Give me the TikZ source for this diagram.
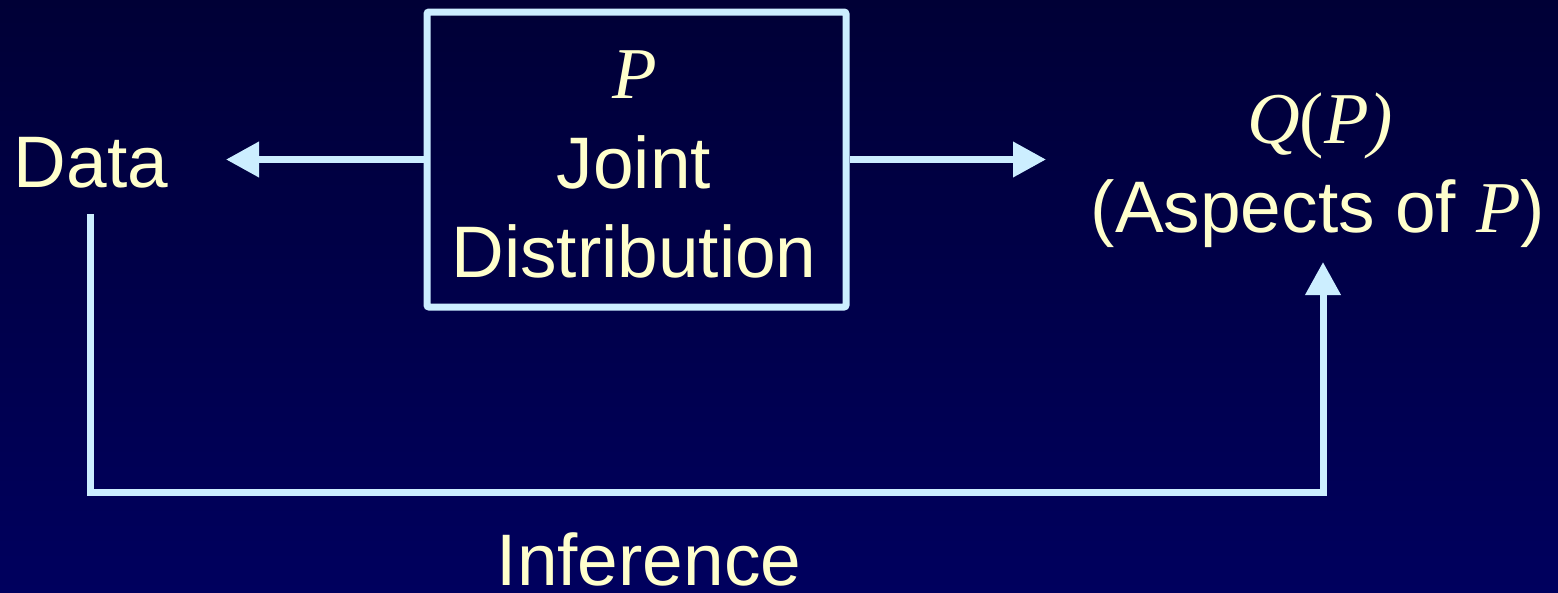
\documentclass[tikz,border=0pt]{standalone}
\usepackage{fontspec}
\setmainfont{Liberation Sans}
\newfontfamily\seriffont{Liberation Serif}
\usetikzlibrary{arrows.meta}
\definecolor{txt}{HTML}{FFFFCC}
\definecolor{ln}{HTML}{CCEEFF}
\definecolor{bgtop}{HTML}{000036}
\definecolor{bgbot}{HTML}{00005E}
\tikzset{
  lbl/.style={text=txt, inner sep=0pt, anchor=base, font=\fontsize{73}{89}\selectfont},
  conn/.style={draw=ln, line width=7pt, miter limit=10},
  tipped/.style={conn, -{Triangle[length=33pt,width=34pt]}},
  boxstyle/.style={draw=ln, line width=7pt, rounded corners=2pt, minimum width=419pt, minimum height=295pt, inner sep=0pt, fill=none}
}
\begin{document}
\begin{tikzpicture}[x=1pt,y=-1pt]
\useasboundingbox (0,0) rectangle (1558,592);
\fill[top color=bgtop, bottom color=bgbot] (0,0) rectangle (1558,592);
% box
\node[boxstyle] (box) at (636.5,159.5) {};
\node[lbl] (p) at (635,98) {\seriffont\itshape P};
\node[lbl] (joint) at (634,188) {Joint};
\node[lbl] (dist) at (634,277) {Distribution};
% data
\node[lbl] (data) at (91,187) {Data};
% Q(P)
\node[lbl] (q) at (1320,143) {\seriffont{\itshape Q}(\itshape P\/)};
\node[lbl] (asp) at (1318,232) {(Aspects of {\seriffont\itshape P\/})};
% inference
\node[lbl] (inf) at (649,585) {Inference};
% coordinates
\coordinate (dtip) at (226,159.5);
\coordinate (qtip) at (1046,159.5);
\coordinate (dstart) at (90,214);
\coordinate (ibot) at (1323,492);
\coordinate (atip) at (1323,262);
% connectors
\draw[tipped] (box.west) -- (dtip);
\draw[tipped] (box.east) -- (qtip);
\draw[tipped] (dstart) |- (ibot) -- (atip);
\end{tikzpicture}
\end{document}
